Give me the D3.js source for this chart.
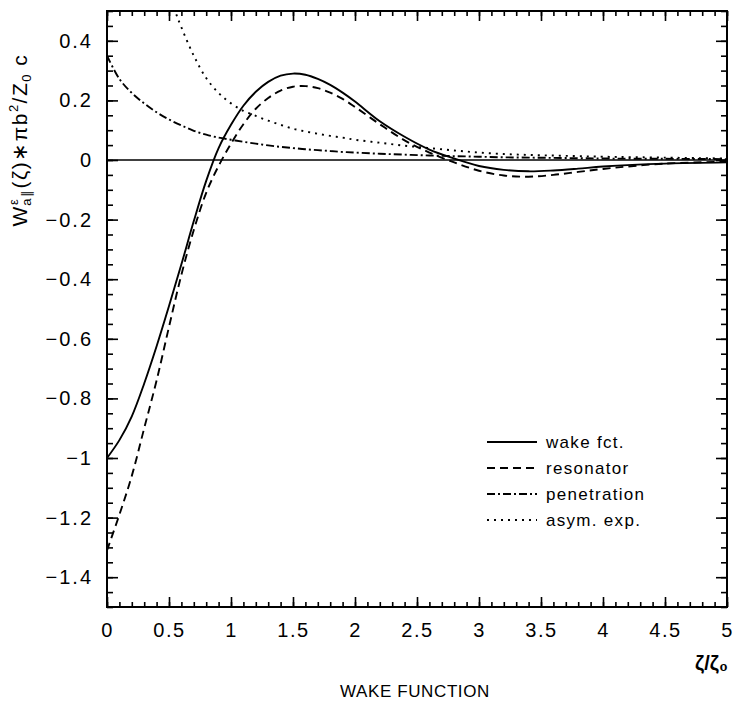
<!DOCTYPE html>
<html>
<head>
<meta charset="utf-8">
<script src="https://cdn.jsdelivr.net/npm/d3@7"></script>
<style>
  body { margin: 0; background: #fff; }
  text { font-family: "Liberation Sans", Arial, sans-serif; fill: #000; }
</style>
</head>
<body>
<svg width="733" height="701"></svg>
<script>
// values
var xGrid = [0, 0.1, 0.2, 0.3, 0.4, 0.5, 0.6, 0.7, 0.8, 0.9, 1.0, 1.1, 1.2, 1.3, 1.4, 1.5,
             1.6, 1.7, 1.8, 1.9, 2.0, 2.2, 2.4, 2.6, 2.8, 3.0, 3.2, 3.4, 3.6, 3.8, 4.0, 4.5, 5.0];
var wakeFct = [-1.0, -0.94, -0.86, -0.75, -0.625, -0.49, -0.35, -0.205, -0.07, 0.04, 0.118, 0.182, 0.229, 0.262, 0.283, 0.29,
               0.286, 0.272, 0.252, 0.226, 0.196, 0.13, 0.078, 0.035, 0.005, -0.02, -0.033, -0.038, -0.035, -0.029, -0.022, -0.012, -0.008];
var resonator = [-1.31, -1.19, -1.06, -0.90, -0.74, -0.56, -0.385, -0.235, -0.11, -0.02, 0.055, 0.12, 0.172, 0.208, 0.233, 0.246,
                 0.248, 0.241, 0.226, 0.205, 0.178, 0.12, 0.066, 0.025, -0.008, -0.036, -0.052, -0.056, -0.05, -0.04, -0.03, -0.012, -0.006];
var penetration = [0.35, 0.272, 0.225, 0.19, 0.16, 0.136, 0.116, 0.098, 0.085, 0.075, 0.068, 0.061, 0.055, 0.049, 0.044, 0.04,
                   0.036, 0.033, 0.03, 0.027, 0.025, 0.021, 0.018, 0.015, 0.013, 0.011, 0.009, 0.008, 0.007, 0.006, 0.005, 0.004, 0.003];
var asymX = [0.5, 0.55, 0.6, 0.7, 0.8, 0.9, 1.0, 1.1, 1.2, 1.3, 1.4, 1.5, 1.6, 1.7, 1.8, 1.9, 2.0,
             2.2, 2.4, 2.6, 2.8, 3.0, 3.2, 3.4, 3.6, 3.8, 4.0, 4.5, 5.0];
var asymExp = [0.58, 0.5, 0.445, 0.35, 0.275, 0.225, 0.19, 0.165, 0.148, 0.132, 0.118, 0.105, 0.096, 0.088, 0.081, 0.075, 0.068,
               0.058, 0.048, 0.04, 0.032, 0.025, 0.02, 0.017, 0.015, 0.013, 0.011, 0.008, 0.005];

var legendNames = ["wake fct.", "resonator", "penetration", "asym. exp."];
var xTicks = [0, 0.5, 1, 1.5, 2, 2.5, 3, 3.5, 4, 4.5, 5];
var xTickLabels = ["0", "0.5", "1", "1.5", "2", "2.5", "3", "3.5", "4", "4.5", "5"];
var yTicks = [-1.4, -1.2, -1, -0.8, -0.6, -0.4, -0.2, 0, 0.2, 0.4];
var yTickLabels = ["\u22121.4", "\u22121.2", "\u22121", "\u22120.8", "\u22120.6", "\u22120.4", "\u22120.2", "0", "0.2", "0.4"];

var svg = d3.select('svg');
var L = 107, R = 727, T = 11, B = 607;
var x = d3.scaleLinear().domain([0, 5]).range([L, R]);
var y = d3.scaleLinear().domain([-1.5, 0.5]).range([B, T]);

var xMinor = d3.range(0, 50.5, 1).map(function (d) { return d / 10; });
var yMinor = d3.range(-30, 10.5, 1).map(function (d) { return d / 20; });

svg.append('defs').append('clipPath').attr('id', 'clip')
   .append('rect').attr('x', L).attr('y', T).attr('width', R - L).attr('height', B - T);

function tidy(g) {
  g.select('.domain').remove();
  g.selectAll('line').attr('stroke', '#000').attr('stroke-width', 1.6);
}
function lbl(vals, labels) { return function (d) { return labels[vals.indexOf(d)]; }; }

// minor ticks on all four sides
svg.append('g').attr('transform', 'translate(0,' + B + ')')
   .call(d3.axisBottom(x).tickValues(xMinor).tickSize(-5).tickFormat('')).call(tidy);
svg.append('g').attr('transform', 'translate(0,' + T + ')')
   .call(d3.axisTop(x).tickValues(xMinor).tickSize(-5).tickFormat('')).call(tidy);
svg.append('g').attr('transform', 'translate(' + L + ',0)')
   .call(d3.axisLeft(y).tickValues(yMinor).tickSize(-6).tickFormat('')).call(tidy);
svg.append('g').attr('transform', 'translate(' + R + ',0)')
   .call(d3.axisRight(y).tickValues(yMinor).tickSize(-6).tickFormat('')).call(tidy);

// major ticks
svg.append('g').attr('transform', 'translate(0,' + B + ')')
   .call(d3.axisBottom(x).tickValues(xTicks).tickSize(-10).tickPadding(16).tickFormat(lbl(xTicks, xTickLabels)))
   .call(tidy)
   .selectAll('text').attr('font-size', 20).style('letter-spacing', '1.5px');
svg.append('g').attr('transform', 'translate(0,' + T + ')')
   .call(d3.axisTop(x).tickValues(xTicks).tickSize(-10).tickFormat('')).call(tidy);
svg.append('g').attr('transform', 'translate(' + L + ',0)')
   .call(d3.axisLeft(y).tickValues(yTicks).tickSize(-11).tickPadding(14).tickFormat(lbl(yTicks, yTickLabels)))
   .call(tidy)
   .selectAll('text').attr('font-size', 20).style('letter-spacing', '2px');
svg.append('g').attr('transform', 'translate(' + R + ',0)')
   .call(d3.axisRight(y).tickValues(yTicks).tickSize(-11).tickFormat('')).call(tidy);

// frame
svg.append('rect').attr('x', L).attr('y', T).attr('width', R - L).attr('height', B - T)
   .attr('fill', 'none').attr('stroke', '#000').attr('stroke-width', 2);

// zero line
svg.append('line').attr('x1', x(0)).attr('x2', x(5)).attr('y1', y(0)).attr('y2', y(0))
   .attr('stroke', '#000').attr('stroke-width', 1.6);

var series = [
  { name: legendNames[0], xs: xGrid, ys: wakeFct, dash: null },
  { name: legendNames[1], xs: xGrid, ys: resonator, dash: '8,5' },
  { name: legendNames[2], xs: xGrid, ys: penetration, dash: '8,3,2,3' },
  { name: legendNames[3], xs: asymX, ys: asymExp, dash: '2,5' }
];

var line = d3.line()
  .x(function (d) { return x(d[0]); })
  .y(function (d) { return y(d[1]); })
  .curve(d3.curveCatmullRom.alpha(0.5));

svg.append('g').attr('clip-path', 'url(#clip)')
   .selectAll('path').data(series).enter().append('path')
   .attr('d', function (s) { return line(d3.zip(s.xs, s.ys)); })
   .attr('fill', 'none').attr('stroke', '#000').attr('stroke-width', 1.9)
   .attr('stroke-dasharray', function (s) { return s.dash; });

// legend
var lg = svg.append('g').selectAll('g').data(series).enter().append('g')
  .attr('transform', function (s, i) { return 'translate(487,' + (442 + i * 26) + ')'; });
lg.append('line').attr('x1', 0).attr('x2', 50).attr('y1', 0).attr('y2', 0)
  .attr('stroke', '#000').attr('stroke-width', 1.8)
  .attr('stroke-dasharray', function (s) { return s.dash; });
lg.append('text').attr('x', 59).attr('y', 6).attr('font-size', 17).style('letter-spacing', '1.3px')
  .text(function (s) { return s.name; });

// axis titles
var yt = svg.append('text').attr('transform', 'translate(27,140) rotate(-90)')
  .attr('text-anchor', 'middle').attr('font-size', 21).style('letter-spacing', '1.5px');
yt.append('tspan').text('W');
yt.append('tspan').attr('font-size', 13).attr('dy', -9).text('\u03b5');
yt.append('tspan').attr('font-size', 13).attr('dy', 13).attr('dx', -8).text('a\u2225');
yt.append('tspan').attr('dy', -4).text('(\u03b6)\u2217\u03c0b');
yt.append('tspan').attr('font-size', 13).attr('dy', -9).text('2');
yt.append('tspan').attr('dy', 9).text('/Z');
yt.append('tspan').attr('font-size', 13).attr('dy', 4).text('0');
yt.append('tspan').attr('dy', -4).text(' c');

svg.append('text').attr('x', 728).attr('y', 670).attr('text-anchor', 'end').attr('font-size', 20)
  .attr('font-weight', 'bold').text('\u03b6/\u03b6\u2080');
svg.append('text').attr('x', 415).attr('y', 697).attr('text-anchor', 'middle').attr('font-size', 17)
  .style('letter-spacing', '0.6px').text('WAKE FUNCTION');
</script>
</body>
</html>
